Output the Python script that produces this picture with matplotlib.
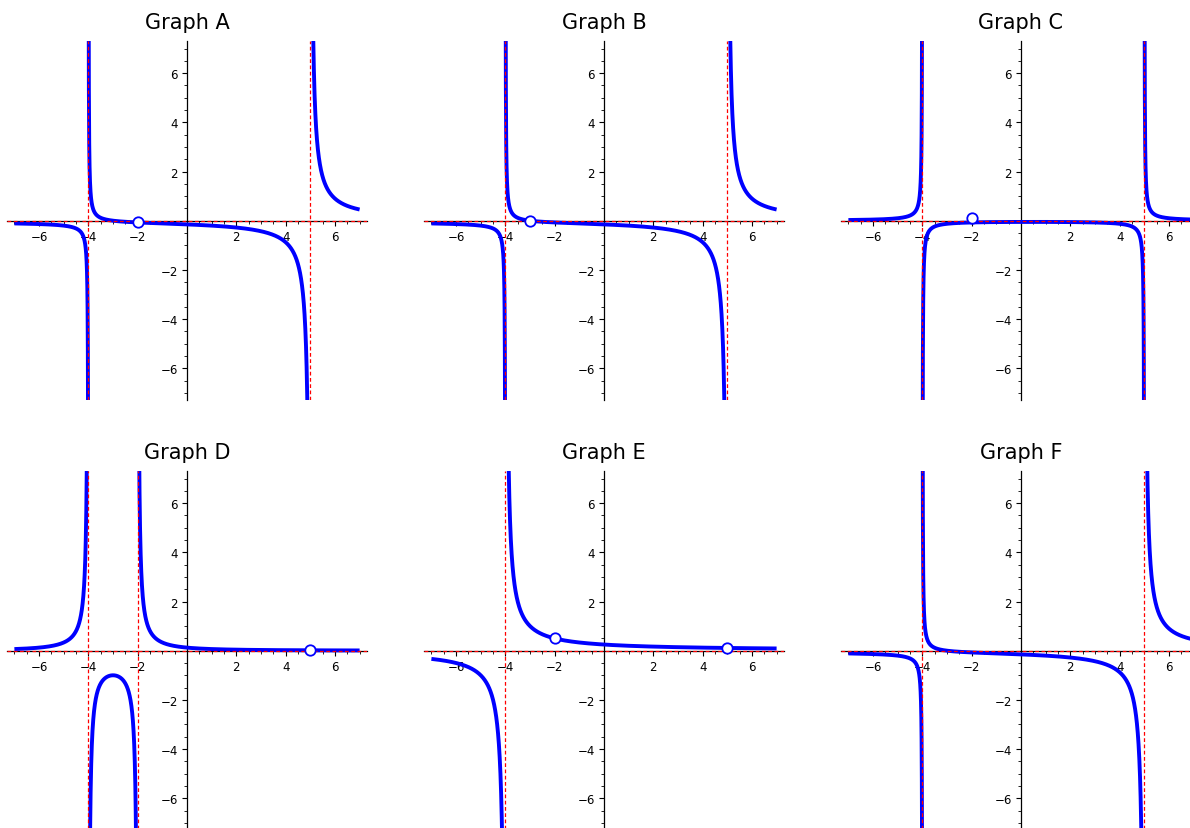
import numpy as np
import matplotlib
matplotlib.use('Agg')
import matplotlib.pyplot as plt
from matplotlib.ticker import FixedLocator, MultipleLocator

titles = ['Graph A', 'Graph B', 'Graph C', 'Graph D', 'Graph E', 'Graph F']
# rational functions: zeros of numerator, zeros of denominator (vertical asymptotes)
num_roots = [[-3], [-3], [], [], [], [-3]]
den_roots = [[-4, 5], [-4, 5], [-4, 5], [-4, -2], [-4], [-4, 5]]
# open circles (holes)
hole_x = [[-2], [-3], [-2], [5], [-2, 5], []]
hole_y = [[-0.07], [0.0], [0.09], [0.02], [0.5, 0.11], []]
x_range = (-7, 7)
major_ticks = [-6, -4, -2, 2, 4, 6]

W, H = 1190, 829
fig = plt.figure(figsize=(W / 100, H / 100), dpi=100)

for i, title in enumerate(titles):
    r, c = divmod(i, 3)
    x0 = 187 + 417 * c
    y0 = 221.7 + 430 * r
    ax = fig.add_axes([(x0 - 180) / W, 1 - (y0 + 179.5) / H, 360 / W, 359 / H])

    x = np.linspace(x_range[0], x_range[1], 4001)
    y = np.ones_like(x)
    for z in num_roots[i]:
        y = y * (x - z)
    for p in den_roots[i]:
        y = y / (x - p)
    # break the line at each pole
    for p in den_roots[i]:
        k = np.searchsorted(x, p)
        x = np.insert(x, k, p)
        y = np.insert(y, k, np.nan)
    ax.plot(x, y, color='blue', lw=2.8, zorder=3, solid_capstyle='butt')

    for p in den_roots[i]:
        ax.axvline(p, color='red', lw=0.9, ls=(0, (3, 2)), zorder=4)
    ax.axhline(0, color='red', lw=0.9, ls=(0, (3, 2)), zorder=4)

    ax.plot(hole_x[i], hole_y[i], 'o', ms=7.5, mfc='white', mec='blue', mew=1.3, zorder=5)

    ax.set_xlim(-7.3, 7.3)
    ax.set_ylim(-7.3, 7.3)
    for s in ['top', 'right']:
        ax.spines[s].set_visible(False)
    for s in ['left', 'bottom']:
        ax.spines[s].set_position('zero')
        ax.spines[s].set_linewidth(0.9)
    ax.xaxis.set_major_locator(FixedLocator(major_ticks))
    ax.yaxis.set_major_locator(FixedLocator(major_ticks))
    ax.xaxis.set_minor_locator(MultipleLocator(0.5))
    ax.yaxis.set_minor_locator(MultipleLocator(0.5))
    ax.tick_params(which='major', length=3.5, width=0.8, labelsize=8.5, pad=3)
    ax.tick_params(which='minor', length=2, width=0.6)
    ax.patch.set_alpha(0)
    ax.set_title(title, fontsize=15, pad=9.5)

fig.savefig('out.png', dpi=100)
